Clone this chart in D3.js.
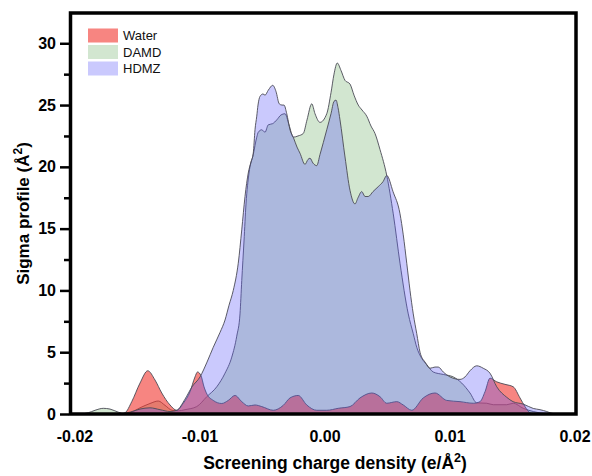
<!DOCTYPE html>
<html><head><meta charset="utf-8">
<script src="https://cdn.jsdelivr.net/npm/d3@7"></script>
<style>body{margin:0;background:#fff}svg{display:block;font-family:Arial,"Liberation Sans",sans-serif}</style>
</head><body><svg id="c" width="592" height="476"></svg>
<script>
// ---- data (sigma in e/Å², sigma profile in Å²) ----
const seriesNames = ["Water", "DAMD", "HDMZ"];

const waterSigma = [-0.0196,-0.0164,-0.0160,-0.01546,-0.0148,-0.01418,-0.0136,-0.01306,-0.0124,-0.01186,-0.01134,-0.0108,-0.0104,-0.0102,-0.00992,-0.00968,-0.00944,-0.00894,-0.00826,-0.00774,-0.0072,-0.00666,-0.00614,-0.0056,-0.00506,-0.00414,-0.00334,-0.0028,-0.00214,-0.00146,-0.00066,0.00014,0.00106,0.002,0.0028,0.00374,0.0044,0.00494,0.00574,0.00626,0.00694,0.00786,0.0088,0.00974,0.0108,0.01186,0.0124,0.0128,0.0132,0.01374,0.0144,0.01506,0.0156,0.016,0.0164,0.0168,0.0196];
const waterProfile = [0,0,0.1,1.0,2.5,3.5,2.75,1.7,0.73,0.3,0.87,1.8,3.0,3.4,3.1,2.2,1.6,1.1,0.85,1.1,1.5,1.0,0.65,0.73,0.6,0.3,0.7,1.3,1.5,0.73,0.3,0.3,0.46,0.6,1.3,1.7,1.4,0.87,1.0,0.73,0.3,1.3,1.7,1.1,1.0,0.87,1.0,1.8,2.9,2.6,2.4,2.2,1.3,0.6,0.1,0,0];

const damdSigma = [-0.0196,-0.01894,-0.0184,-0.01774,-0.0172,-0.01654,-0.016,-0.0156,-0.0148,-0.014,-0.01334,-0.0128,-0.01224,-0.01176,-0.0112,-0.01026,-0.00946,-0.00866,-0.008,-0.00746,-0.00706,-0.0068,-0.00666,-0.00648,-0.00632,-0.00608,-0.00574,-0.00546,-0.00534,-0.00506,-0.0048,-0.00454,-0.00418,-0.00386,-0.00352,-0.0032,-0.00288,-0.00254,-0.00216,-0.00174,-0.00144,-0.00106,-0.0008,-0.0004,0.00014,0.00048,0.00072,0.00098,0.00128,0.0016,0.002,0.00232,0.00266,0.00296,0.00334,0.00368,0.004,0.0044,0.00494,0.00546,0.006,0.00666,0.00706,0.00734,0.00774,0.00814,0.00866,0.00946,0.01026,0.01094,0.0116,0.01214,0.01294,0.01346,0.014,0.01454,0.01506,0.01586,0.01666,0.01774,0.0184];
const damdProfile = [0,0.1,0.3,0.46,0.4,0.15,0.03,0.1,0.5,0.85,1.05,0.7,0.3,0.25,0.35,0.6,1.4,2.2,3.3,4.6,6.3,8.1,10.8,14,17,19.5,21.0,22.4,22.8,23.0,22.8,23.4,23.5,23.8,24.2,24.3,23.4,22.4,22.5,22.7,23.8,25.1,24.3,23.6,24.3,26.0,27.5,28.4,27.8,27.0,26.7,25.8,25.0,24.6,24.1,23.3,22.7,21.4,19.3,16.2,12.2,8.1,6.5,5.4,4.5,4.0,3.4,3.2,3.0,2.5,1.7,0.9,0.87,0.75,0.75,0.75,0.87,0.46,0.2,0.02,0];

const hdmzSigma = [-0.0164,-0.0156,-0.0148,-0.014,-0.0132,-0.0124,-0.01186,-0.0112,-0.01064,-0.01,-0.00944,-0.00894,-0.0084,-0.008,-0.00768,-0.00734,-0.00694,-0.00666,-0.0064,-0.00614,-0.00592,-0.00574,-0.0056,-0.00546,-0.00536,-0.0052,-0.00496,-0.0048,-0.00454,-0.00418,-0.00392,-0.00366,-0.00344,-0.00328,-0.00306,-0.0028,-0.00254,-0.00224,-0.002,-0.0016,-0.00136,-0.0012,-0.00096,-0.00066,-0.0004,0.00014,0.00048,0.00072,0.00088,0.00104,0.0012,0.0016,0.002,0.0024,0.00264,0.00294,0.0032,0.00346,0.00384,0.00426,0.00464,0.00494,0.00544,0.006,0.00626,0.00654,0.0068,0.00706,0.00734,0.0076,0.008,0.0084,0.0088,0.00906,0.00946,0.01,0.0108,0.0112,0.0116,0.01214,0.01266,0.0132,0.01374,0.01454,0.01504,0.01586,0.01666,0.0172,0.01774,0.018,0.01848];
const hdmzProfile = [0,0.15,0.4,0.5,0.35,0.2,0.3,1.2,2.2,3.0,4.2,5.4,6.6,7.6,8.8,10.0,12.2,14.9,17.6,19.5,20.4,21.1,23.0,24.1,25.0,25.7,25.9,25.8,26.2,26.6,26.1,25.1,25.0,25.0,24.3,23.0,22.4,21.6,21.1,20.2,20.6,20.7,20.3,20.1,21.0,23.0,24.3,25.3,25.4,24.8,23.8,20.8,18.1,17.0,17.5,18.0,17.6,17.6,18.0,18.4,18.8,19.3,18.0,16.2,14.5,12.2,10.0,8.1,6.5,5.0,4.2,3.7,3.8,3.8,3.4,3.0,2.8,3.0,3.5,3.9,3.7,3.3,2.2,1.35,1.0,0.8,0.45,0.35,0.2,0.1,0];

const xTickValues = [-0.02, -0.01, 0, 0.01, 0.02];
const xTickLabels = ["-0.02", "-0.01", "0.00", "0.01", "0.02"];
const yTickValues = [0, 5, 10, 15, 20, 25, 30];
const yMinorTicks = [2.5, 7.5, 12.5, 17.5, 22.5, 27.5];

// ---- styles ----
const fills = {
  Water: {color: "rgb(242,52,45)", opacity: 0.6},
  DAMD:  {color: "rgb(105,172,98)", opacity: 0.3},
  HDMZ:  {color: "rgb(95,92,250)", opacity: 0.33}
};

const svg = d3.select("#c");
const L = 70.5, R = 576, T = 13, B = 414;
const x = d3.scaleLinear().domain([-0.02036, 0.02008]).range([L, R]);
const y = d3.scaleLinear().domain([0, 32.45]).range([B, T]);

svg.append("defs").append("clipPath").attr("id", "clip")
  .append("rect").attr("x", L).attr("y", T).attr("width", R - L).attr("height", B - T);

const zip = (a, b) => a.map((s, i) => [s, b[i]]);
const series = {
  Water: zip(waterSigma, waterProfile),
  DAMD: zip(damdSigma, damdProfile),
  HDMZ: zip(hdmzSigma, hdmzProfile)
};

const area = d3.area().x(d => x(d[0])).y0(y(0)).y1(d => y(d[1])).curve(d3.curveMonotoneX);
const line = d3.line().x(d => x(d[0])).y(d => y(d[1])).curve(d3.curveMonotoneX);

const g = svg.append("g").attr("clip-path", "url(#clip)");
["DAMD", "Water", "HDMZ"].forEach(name => {
  g.append("path").datum(series[name]).attr("d", area)
    .attr("fill", fills[name].color).attr("fill-opacity", fills[name].opacity).attr("stroke", "none");
  g.append("path").datum(series[name]).attr("d", line)
    .attr("fill", "none").attr("stroke", "#4a4a55").attr("stroke-width", 1).attr("stroke-opacity", 0.9);
});

// frame
svg.append("rect").attr("x", L).attr("y", T).attr("width", R - L).attr("height", B - T)
  .attr("fill", "none").attr("stroke", "#000").attr("stroke-width", 3.5);

// y axis
const yAxis = svg.append("g").attr("transform", `translate(${L - 1.5},0)`)
  .call(d3.axisLeft(y).tickValues(yTickValues).tickSize(9).tickPadding(4).tickFormat(d3.format("d")));
yAxis.select(".domain").remove();
yAxis.selectAll(".tick line").attr("stroke", "#000").attr("stroke-width", 2.5);
yAxis.selectAll(".tick text").attr("font-size", 16).attr("font-weight", "bold").attr("fill", "#000")
  .attr("font-family", "Arial, 'Liberation Sans', sans-serif");
const yMinor = svg.append("g").attr("transform", `translate(${L - 1.5},0)`)
  .call(d3.axisLeft(y).tickValues(yMinorTicks).tickSize(5).tickFormat(""));
yMinor.select(".domain").remove();
yMinor.selectAll(".tick line").attr("stroke", "#000").attr("stroke-width", 2.5);

// x labels (no tick marks in reference)
svg.append("g").selectAll("text").data(xTickValues).join("text")
  .attr("x", d => x(d)).attr("y", 442).attr("text-anchor", "middle")
  .attr("font-size", 16).attr("font-weight", "bold").attr("fill", "#000")
  .text((d, i) => xTickLabels[i]);

// axis titles
const yt = svg.append("text").attr("transform", `translate(29,${(T + B) / 2}) rotate(-90)`)
  .attr("text-anchor", "middle").attr("font-size", 17).attr("font-weight", "bold");
yt.append("tspan").text("Sigma profile (Å");
yt.append("tspan").attr("dy", -7).attr("font-size", 12).text("2");
yt.append("tspan").attr("dy", 7).text(")");

const xt = svg.append("text").attr("x", 335).attr("y", 469)
  .attr("text-anchor", "middle").attr("font-size", 17.5).attr("font-weight", "bold");
xt.append("tspan").text("Screening charge density (e/Å");
xt.append("tspan").attr("dy", -7).attr("font-size", 12.5).text("2");
xt.append("tspan").attr("dy", 7).text(")");

// legend
const legY = [28.5, 45, 61.5];
const leg = svg.append("g");
seriesNames.forEach((name, i) => {
  leg.append("rect").attr("x", 88).attr("y", legY[i]).attr("width", 30).attr("height", 14)
    .attr("fill", fills[name].color).attr("fill-opacity", fills[name].opacity);
  leg.append("text").attr("x", 123).attr("y", legY[i] + 11.5).attr("font-size", 13).attr("fill", "#111").text(name);
});
</script></body></html>
